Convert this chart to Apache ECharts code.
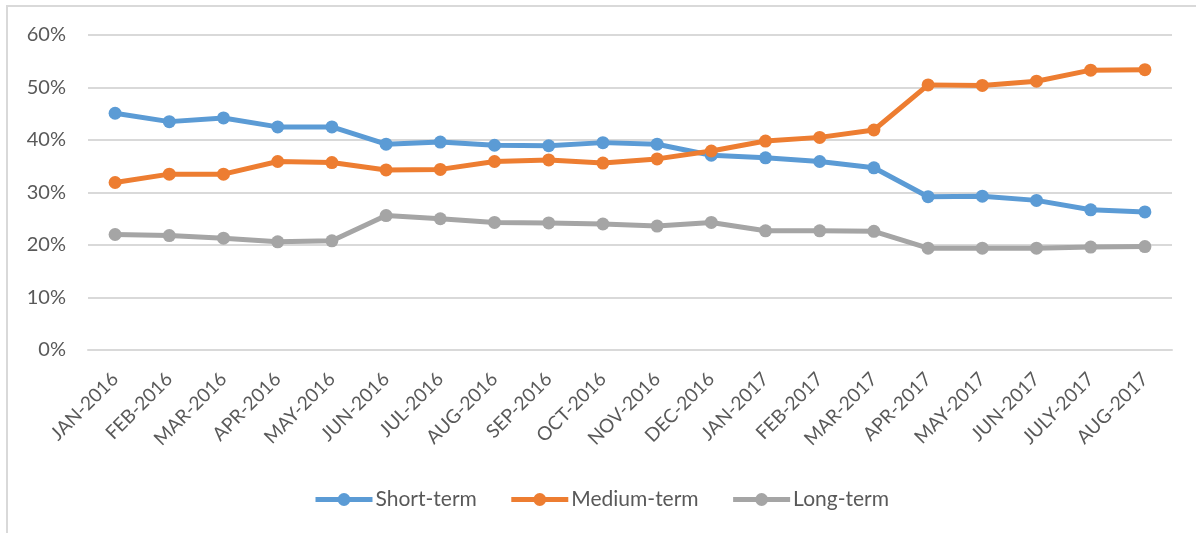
<!DOCTYPE html>
<html>
<head>
<meta charset="utf-8">
<script src="https://cdn.jsdelivr.net/npm/echarts@6/dist/echarts.min.js"></script>
<style>
  html, body { margin: 0; padding: 0; background: #fff; }
  #chart { width: 1196px; height: 533px; }
</style>
</head>
<body>
<div id="chart"></div>
<script>
const months = [
  'JAN-2016', 'FEB-2016', 'MAR-2016', 'APR-2016', 'MAY-2016',
  'JUN-2016', 'JUL-2016', 'AUG-2016', 'SEP-2016', 'OCT-2016',
  'NOV-2016', 'DEC-2016', 'JAN-2017', 'FEB-2017', 'MAR-2017',
  'APR-2017', 'MAY-2017', 'JUN-2017', 'JULY-2017', 'AUG-2017',
]

// share of each term, in percent
const shortTerm = [
  45.1, 43.5, 44.2, 42.5, 42.5,
  39.2, 39.6, 39.0, 38.9, 39.5,
  39.2, 37.1, 36.6, 35.9, 34.7,
  29.2, 29.3, 28.5, 26.7, 26.3,
]

const mediumTerm = [
  31.9, 33.5, 33.5, 35.9, 35.7,
  34.3, 34.4, 35.9, 36.2, 35.6,
  36.4, 37.9, 39.8, 40.5, 41.9,
  50.5, 50.4, 51.2, 53.3, 53.4,
]

const longTerm = [
  22.0, 21.8, 21.3, 20.6, 20.8,
  25.6, 25.0, 24.3, 24.2, 24.0,
  23.6, 24.3, 22.7, 22.7, 22.6,
  19.4, 19.4, 19.4, 19.6, 19.7,
]

const font = 'Lato, "Open Sans", sans-serif'
const textColor = '#595959'

function lineSeries(name, data, color) {
  return {
    name: name,
    type: 'line',
    data: [...data],
    symbol: 'circle',
    symbolSize: 13,
    lineStyle: { width: 5, color: color },
    itemStyle: { color: color },
    emphasis: { disabled: true },
  }
}

echarts.init(document.getElementById('chart')).setOption({
  animation: false,
  color: ['#5B9BD5', '#ED7D31', '#A5A5A5'],
  graphic: [
    {
      type: 'rect',
      shape: { x: 7, y: 6, width: 1400, height: 800 },
      style: { fill: 'none', stroke: '#d9d9d9', lineWidth: 2 },
      silent: true,
    },
  ],
  legend: {
    data: ['Short-term', 'Medium-term', 'Long-term'],
    left: 308,
    top: 484,
    itemWidth: 57,
    itemHeight: 16,
    itemGap: 32,
    lineStyle: { width: 5 },
    textStyle: { fontFamily: font, fontSize: 21, color: textColor, padding: [0, 0, 0, -2] },
  },
  grid: {
    left: 88,
    right: 24,
    top: 35,
    bottom: 183,
  },
  xAxis: {
    type: 'category',
    data: [...months],
    axisLine: { lineStyle: { color: '#d9d9d9', width: 2 } },
    axisTick: { show: false },
    axisLabel: {
      rotate: 45,
      margin: 26,
      interval: 0,
      fontFamily: font,
      fontSize: 19,
      color: textColor,
    },
  },
  yAxis: {
    type: 'value',
    min: 0,
    max: 60,
    interval: 10,
    axisLine: { show: false },
    axisTick: { show: false },
    splitLine: { lineStyle: { color: '#d9d9d9', width: 2 } },
    axisLabel: {
      formatter: '{value}%',
      margin: 22,
      fontFamily: font,
      fontSize: 20,
      color: textColor,
    },
  },
  series: [
    lineSeries('Short-term', shortTerm, '#5B9BD5'),
    lineSeries('Medium-term', mediumTerm, '#ED7D31'),
    lineSeries('Long-term', longTerm, '#A5A5A5'),
  ],
})
</script>
</body>
</html>
